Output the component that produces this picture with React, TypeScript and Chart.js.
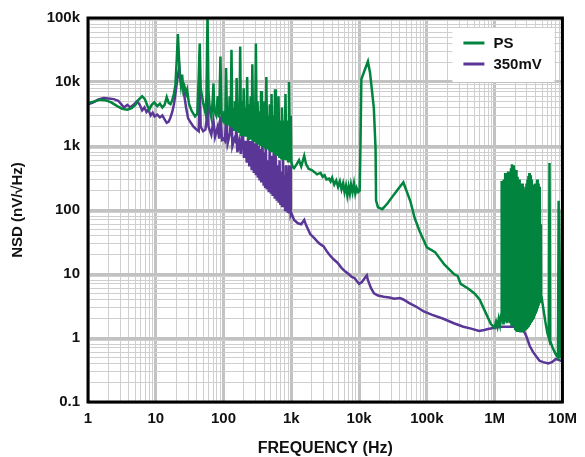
import { useEffect, useRef } from 'react';
import { Chart, registerables } from 'chart.js';

Chart.register(...registerables);

const xDecades = [1, 10, 100, 1e3, 1e4, 1e5, 1e6, 1e7];
const xTickLabels = ['1', '10', '100', '1k', '10k', '100k', '1M', '10M'];
const yDecades = [0.1, 1, 10, 100, 1e3, 1e4, 1e5];
const yTickLabels = ['0.1', '1', '10', '100', '1k', '10k', '100k'];

const seriesLabels = ['PS', '350mV'];
const seriesColors = ['#00843e', '#5a3796'];

// PS (green): [frequency Hz, NSD nV/rtHz]
const psPoints: [number, number][] = [
  [1, 4700], [1.2, 4900], [1.5, 5300], [1.8, 5200], [2.2, 4800], [2.7, 4200], [3.2, 3800], [3.8, 3700],
  [4.4, 3900], [5.0, 4400], [5.6, 5300], [6.3, 6000], [6.9, 5400], [7.5, 4300], [8.0, 3700], [8.7, 4400],
  [9.5, 4800], [10.5, 4200], [11.5, 4600], [12.5, 4000], [13.5, 4400], [14.5, 5800], [15.5, 4700], [16.5, 4500],
  [17.5, 5200], [18.5, 6500], [19.5, 9000], [20.5, 25000], [21.2, 56000], [21.8, 30000], [22.5, 14000],
  [23.5, 9000], [24.5, 13000], [25.5, 7500], [26.5, 8500], [28, 6500], [29, 7500], [31, 4500], [34, 3500],
  [38, 2900], [41, 3200], [43, 12000], [44.5, 40000], [46, 8000], [50, 4700], [54, 3300], [56, 6000],
  [58, 120000], [60, 7000], [63, 3500], [66, 2800], [69, 5000], [71, 9500], [73, 3500], [78, 3000],
  [82, 6000], [86, 2800], [90, 25000], [93, 3500], [97, 2500],
  [100, 2400], [103, 3500], [106, 2300], [109, 16500], [113, 2200], [116, 4000], [120, 2100], [123, 6000],
  [127, 2000], [131, 32000], [135, 1900], [139, 4000], [143, 1800], [147, 5000], [152, 1700], [156, 11500],
  [161, 1700], [166, 4000], [171, 1600], [176, 36000], [181, 1500], [187, 5000], [193, 1500], [198, 8000],
  [204, 1400], [210, 4000], [217, 1400], [223, 12000], [230, 1300], [237, 4500], [244, 1300], [251, 6000],
  [259, 1250], [266, 19000], [274, 1200], [283, 4000], [291, 1150], [300, 40000], [309, 1100], [318, 5000],
  [328, 1050], [338, 3500], [348, 1000], [358, 7200], [369, 1000], [380, 3000], [391, 950], [403, 5000],
  [415, 900], [428, 12000], [441, 900], [454, 3000], [467, 850], [481, 4500], [496, 800], [511, 6500],
  [526, 800], [542, 3000], [558, 750], [575, 7700], [592, 700], [610, 3000], [628, 700], [647, 6000],
  [667, 650], [687, 2500], [707, 650], [728, 4000], [750, 600], [773, 2500], [796, 600], [820, 6500],
  [845, 600], [870, 2500], [896, 580], [923, 10000], [950, 560], [979, 3000], [1000, 560],
  [1050, 470], [1100, 450], [1200, 520],
  [1300, 600], [1400, 480], [1550, 700], [1650, 520], [1800, 440], [2000, 420], [2200, 390], [2400, 360],
  [2700, 380], [2900, 330], [3100, 350], [3300, 300], [3600, 310], [3800, 280], [4000, 320], [4300, 250],
  [4600, 290], [4900, 230], [5200, 280], [5500, 210], [5800, 260], [6100, 190], [6400, 240], [6700, 170],
  [7000, 230], [7300, 180], [7600, 250], [8000, 190], [8400, 260], [8800, 180], [9200, 220], [9700, 190],
  [10200, 200], [10500, 1200], [10800, 11000], [12000, 15000], [13500, 21000], [14500, 14000],
  [16500, 3900], [17500, 900], [17800, 140], [19000, 110], [22000, 103], [26000, 125], [33000, 177],
  [40000, 230], [45000, 270], [50000, 200], [57000, 138], [66000, 75], [78000, 47], [100000, 26],
  [132000, 22], [182000, 14], [250000, 10], [285000, 9.3], [315000, 7], [400000, 6], [500000, 5.0],
  [600000, 4.0], [700000, 2.8], [880000, 1.65], [1.0e6, 1.45], [1.05e6, 1.8], [1.1e6, 1.5], [1.15e6, 2.0],
  [1.2e6, 1.6], [1.25e6, 2.3],
  [1.270e6, 285], [1.290e6, 1.9], [1.310e6, 200], [1.330e6, 1.7], [1.350e6, 300], [1.370e6, 2.0],
  [1.390e6, 260], [1.410e6, 1.8], [1.430e6, 380], [1.455e6, 1.9], [1.480e6, 320], [1.505e6, 1.7],
  [1.530e6, 250], [1.555e6, 1.8], [1.580e6, 400], [1.605e6, 1.9], [1.630e6, 350], [1.655e6, 1.7],
  [1.680e6, 330], [1.710e6, 1.8], [1.740e6, 450], [1.770e6, 1.6], [1.800e6, 520], [1.830e6, 1.7],
  [1.860e6, 480], [1.890e6, 1.6], [1.920e6, 500], [1.950e6, 1.5], [1.980e6, 430], [2.010e6, 1.4],
  [2.040e6, 350], [2.070e6, 1.35], [2.100e6, 420], [2.140e6, 1.3], [2.180e6, 330], [2.220e6, 1.3],
  [2.260e6, 280], [2.300e6, 1.3], [2.340e6, 300], [2.380e6, 1.28], [2.420e6, 260], [2.460e6, 1.3],
  [2.500e6, 230], [2.540e6, 1.28], [2.580e6, 260], [2.620e6, 1.3], [2.660e6, 210], [2.700e6, 1.28],
  [2.750e6, 200], [2.800e6, 1.3], [2.850e6, 230], [2.900e6, 1.33], [2.950e6, 260], [3.000e6, 1.38],
  [3.050e6, 300], [3.100e6, 1.45], [3.150e6, 340], [3.200e6, 1.5], [3.250e6, 380], [3.300e6, 1.6],
  [3.360e6, 350], [3.420e6, 1.7], [3.480e6, 300], [3.540e6, 1.8], [3.600e6, 250], [3.660e6, 1.9],
  [3.720e6, 220], [3.780e6, 2.0], [3.840e6, 200], [3.900e6, 2.2], [3.970e6, 260], [4.040e6, 2.4],
  [4.110e6, 240], [4.180e6, 2.6], [4.250e6, 300], [4.320e6, 2.9], [4.390e6, 260], [4.460e6, 3.2],
  [4.530e6, 230], [4.600e6, 3.5], [4.670e6, 170], [4.740e6, 3.9], [4.810e6, 60], [4.860e6, 4.3],
  [4.9e6, 4.5], [5.2e6, 3.0], [5.6e6, 1.8], [6.0e6, 1.2], [6.3e6, 1.0], [6.45e6, 540],
  [6.6e6, 0.9], [7.2e6, 0.7], [8.0e6, 0.55], [8.6e6, 0.5], [8.8e6, 140], [9.0e6, 0.5], [9.5e6, 0.5],
  [9.8e6, 97], [1e7, 0.6],
];

// 350mV (purple): [frequency Hz, NSD nV/rtHz]
const mvPoints: [number, number][] = [
  [1, 4500], [1.2, 4800], [1.4, 5300], [1.7, 5600], [2.0, 5500], [2.4, 5400], [2.8, 5100], [3.1, 4500],
  [3.4, 4000], [3.8, 4400], [4.2, 4000], [4.7, 4400], [5.3, 5000], [5.8, 4400], [6.3, 3600], [6.8, 4000],
  [7.3, 3400], [7.8, 3700], [8.4, 3000], [9.0, 3300], [9.6, 2900], [10.5, 3100], [11.5, 2800], [12.5, 3000],
  [13.5, 2600], [14.5, 2300], [15.5, 2400], [16.5, 2800], [17.5, 3400], [18.5, 4400], [19.5, 6500], [20.5, 10000],
  [21.5, 14000], [22.3, 16500], [23, 11000], [24, 9000], [26, 6800], [28, 4000], [30, 2700], [33, 2300],
  [36, 2000], [40, 1800], [43, 1700], [44.5, 9700], [46, 2000], [50, 1700], [54, 1800], [56, 2500],
  [58, 8000], [60, 2000], [66, 1500], [71, 2500], [75, 1400], [82, 2000], [86, 1300], [90, 2900],
  [95, 1250], [100, 1300], [105, 1200], [110, 3500], [115, 1100], [125, 1600], [130, 5000], [135, 1000],
  [145, 1300], [150, 1200], [155, 2000], [160, 800], [170, 1200], [180, 750], [190, 2500], [200, 650],
  [210, 1200], [220, 550], [230, 1300], [240, 480], [250, 1200], [260, 420], [270, 1300], [280, 380],
  [290, 1100], [300, 350], [310, 1200], [320, 320], [330, 1000], [340, 290], [350, 900], [360, 270],
  [375, 1100], [390, 240], [400, 800], [410, 230], [420, 1000], [435, 210], [450, 600], [465, 190],
  [480, 900], [500, 180], [515, 700], [530, 165], [550, 800], [570, 150], [590, 700], [610, 140],
  [630, 500], [650, 130], [670, 600], [690, 120], [710, 400], [730, 115], [750, 700], [770, 110],
  [790, 350], [810, 100], [830, 500], [850, 95], [870, 300], [890, 90], [910, 500], [930, 88],
  [960, 500], [980, 85], [1000, 90], [1100, 70], [1250, 62], [1400, 60], [1550, 70], [1650, 58],
  [1900, 42], [2200, 36], [2500, 31], [2700, 29], [3000, 27], [3400, 22], [3800, 19], [4200, 17],
  [4800, 15], [5500, 12.5], [6200, 11], [7000, 10], [7800, 9], [8600, 8.6], [9500, 7.5], [10000, 7.0],
  [11000, 7.5], [12000, 8.5], [13000, 9.5], [13500, 8], [15000, 6], [16600, 5.0], [19000, 4.6],
  [23000, 4.4], [28000, 4.3], [33000, 4.1], [40000, 4.2], [45000, 4.0], [55000, 3.5], [71000, 3.05],
  [90000, 2.6], [120000, 2.3], [175000, 2.0], [250000, 1.7], [345000, 1.5], [450000, 1.4], [590000, 1.29],
  [700000, 1.33], [800000, 1.38], [950000, 1.43], [1.2e6, 1.5], [1.6e6, 1.5], [2.1e6, 1.5], [2.6e6, 1.4],
  [2.9e6, 1.1], [3.3e6, 0.75], [3.7e6, 0.6], [4.2e6, 0.5], [4.6e6, 0.44], [5.2e6, 0.42], [6.2e6, 0.40],
  [7.0e6, 0.42], [8.0e6, 0.47], [9.0e6, 0.45], [1e7, 0.43],
];

function gridValues(decades: number[]): number[] {
  const out: number[] = [];
  for (let i = 0; i < decades.length - 1; i++) {
    for (let m = 1; m <= 9; m++) out.push(parseFloat((m * decades[i]).toPrecision(6)));
  }
  out.push(decades[decades.length - 1]);
  return out;
}

function decadeIndex(v: number, decades: number[]): number {
  return decades.findIndex((d) => Math.abs(v / d - 1) < 1e-6);
}

const FONT = "'Liberation Sans', Arial, Helvetica, sans-serif";

export default function App() {
  const ref = useRef<HTMLCanvasElement | null>(null);

  useEffect(() => {
    if (!ref.current) return;
    const xGrid = gridValues(xDecades);
    const yGrid = gridValues(yDecades);

    const framePlugin = {
      id: 'frameAndLegend',
      afterDatasetsDraw(chart: any) {
        const { ctx, chartArea: a } = chart;
        ctx.save();
        ctx.lineWidth = 3;
        ctx.strokeStyle = '#000';
        ctx.strokeRect(a.left, a.top, a.right - a.left, a.bottom - a.top);
        // legend
        const bx = a.right - 110;
        const by = a.top + 10;
        ctx.fillStyle = '#fff';
        ctx.fillRect(bx, by, 102, 54);
        ctx.font = `bold 15px ${FONT}`;
        ctx.textBaseline = 'middle';
        ctx.textAlign = 'left';
        chart.data.datasets.forEach((ds: any, i: number) => {
          const y = by + 15 + i * 21;
          ctx.strokeStyle = ds.borderColor;
          ctx.lineWidth = 3;
          ctx.beginPath();
          ctx.moveTo(bx + 11, y);
          ctx.lineTo(bx + 32, y);
          ctx.stroke();
          ctx.fillStyle = '#111';
          ctx.fillText(ds.label, bx + 41, y + 1);
        });
        ctx.restore();
      },
    };

    const gridWidth = (decades: number[]) => (c: any) =>
      c.tick && decadeIndex(c.tick.value, decades) >= 0 ? 3 : 1;
    const gridColor = (decades: number[]) => (c: any) =>
      c.tick && decadeIndex(c.tick.value, decades) >= 0 ? '#c2c2c2' : '#cfcfcf';

    const chart = new Chart(ref.current, {
      type: 'line',
      data: {
        datasets: [
          {
            label: seriesLabels[0],
            data: psPoints.map(([x, y]) => ({ x, y })),
            borderColor: seriesColors[0],
            backgroundColor: seriesColors[0],
            borderWidth: 2.5,
            pointRadius: 0,
            tension: 0,
          },
          {
            label: seriesLabels[1],
            data: mvPoints.map(([x, y]) => ({ x, y })),
            borderColor: seriesColors[1],
            backgroundColor: seriesColors[1],
            borderWidth: 2.5,
            pointRadius: 0,
            tension: 0,
          },
        ],
      },
      options: {
        animation: false,
        responsive: false,
        maintainAspectRatio: false,
        layout: { padding: { top: 18, right: 18, left: 0, bottom: 0 } },
        plugins: { legend: { display: false }, tooltip: { enabled: false } },
        scales: {
          x: {
            type: 'logarithmic',
            min: 1,
            max: 1e7,
            afterBuildTicks: (s: any) => {
              s.ticks = xGrid.map((v) => ({ value: v }));
            },
            afterFit: (s: any) => {
              s.height = 55;
            },
            ticks: {
              autoSkip: false,
              maxRotation: 0,
              padding: 8,
              color: '#111',
              font: { family: FONT, size: 15, weight: 'bold' },
              callback: (v: any) => {
                const i = decadeIndex(Number(v), xDecades);
                return i >= 0 ? xTickLabels[i] : '';
              },
            },
            grid: { drawTicks: false, lineWidth: gridWidth(xDecades), color: gridColor(xDecades) },
            border: { display: false },
            title: {
              display: true,
              text: 'FREQUENCY (Hz)',
              color: '#111',
              font: { family: FONT, size: 16, weight: 'bold', lineHeight: 1 },
              padding: { top: 0, bottom: 0 },
            },
          },
          y: {
            type: 'logarithmic',
            min: 0.1,
            max: 1e5,
            afterBuildTicks: (s: any) => {
              s.ticks = yGrid.map((v) => ({ value: v }));
            },
            afterFit: (s: any) => {
              s.width = 88;
            },
            ticks: {
              autoSkip: false,
              padding: 8,
              color: '#111',
              font: { family: FONT, size: 15, weight: 'bold' },
              callback: (v: any) => {
                const i = decadeIndex(Number(v), yDecades);
                return i >= 0 ? yTickLabels[i] : '';
              },
            },
            grid: { drawTicks: false, lineWidth: gridWidth(yDecades), color: gridColor(yDecades) },
            border: { display: false },
            title: {
              display: true,
              text: 'NSD (nV/√Hz)',
              color: '#111',
              font: { family: FONT, size: 15, weight: 'bold', lineHeight: 1.2 },
              padding: { top: 9, bottom: 0 },
            },
          },
        },
      } as any,
      plugins: [framePlugin],
    });
    return () => chart.destroy();
  }, []);

  return (
    <div style={{ position: 'absolute', left: 0, top: 0, width: 585, height: 457, background: '#fff' }}>
      <canvas ref={ref} width={585} height={457} />
    </div>
  );
}
